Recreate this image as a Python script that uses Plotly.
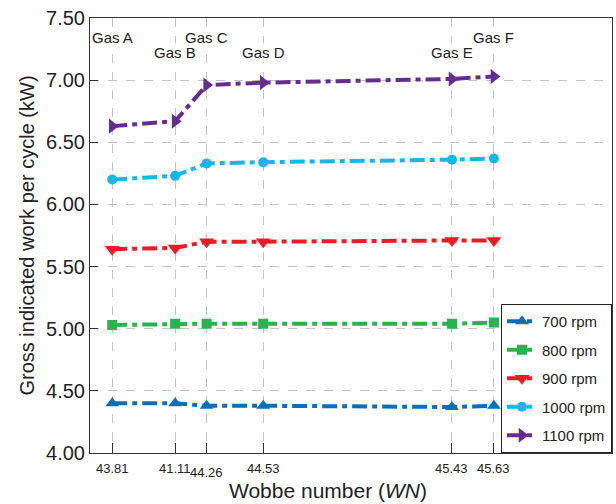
import plotly.graph_objects as go

# ---- data ----
gases = ["Gas A", "Gas B", "Gas C", "Gas D", "Gas E", "Gas F"]
wobbe_pos = [43.81, 44.11, 44.26, 44.53, 45.43, 45.63]      # plotting position (Wobbe number)
wobbe_labels = ["43.81", "41.11", "44.26", "44.53", "45.43", "45.63"]  # printed tick text
gas_label_upper = [True, False, True, False, False, True]

series_names = ["700 rpm", "800 rpm", "900 rpm", "1000 rpm", "1100 rpm"]
w700 = [4.40, 4.40, 4.38, 4.38, 4.37, 4.38]
w800 = [5.03, 5.04, 5.04, 5.04, 5.04, 5.05]
w900 = [5.64, 5.65, 5.70, 5.70, 5.71, 5.71]
w1000 = [6.20, 6.23, 6.33, 6.34, 6.36, 6.37]
w1100 = [6.63, 6.67, 6.96, 6.98, 7.01, 7.03]
series_values = [w700, w800, w900, w1000, w1100]

y_ticks = [4.0, 4.5, 5.0, 5.5, 6.0, 6.5, 7.0, 7.5]

# ---- styles ----
colors = ["#0b6fb8", "#2bb24c", "#ec1c24", "#14b6ec", "#662d91"]
symbols = ["triangle-up", "square", "triangle-down", "circle", "triangle-right"]
msizes = [12, 10, 13, 10, 13]
FONT = "Liberation Sans, Arial, Helvetica, sans-serif"

fig = go.Figure()
for name, vals, c, s, ms in zip(series_names, series_values, colors, symbols, msizes):
    fig.add_trace(go.Scatter(
        x=wobbe_pos, y=vals, name=name, mode="lines+markers",
        line=dict(color=c, width=4, dash="15px,5px,5px,5px"),
        marker=dict(symbol=s, size=ms, color=c, line=dict(width=0)),
        legendgroup=name,
    ))

annotations = []
for pos, lab in zip(wobbe_pos, wobbe_labels):
    annotations.append(dict(
        x=pos, y=0, xref="x", yref="paper", text=lab, showarrow=False,
        yanchor="top", yshift=-6 if lab != "44.26" else -10,
        font=dict(size=13, color="#222", family=FONT),
    ))
for pos, g, up in zip(wobbe_pos, gases, gas_label_upper):
    annotations.append(dict(
        x=pos, y=0.956 if up else 0.921, xref="x", yref="paper", text=g,
        showarrow=False, yanchor="middle", bgcolor="white", borderpad=0,
        font=dict(size=15, color="#222", family=FONT),
    ))
annotations.append(dict(
    x=0.455, y=0, xref="paper", yref="paper", yshift=-37, yanchor="middle",
    text="Wobbe number (<i>WN</i>)", showarrow=False,
    font=dict(size=21, color="#222", family=FONT),
))

fig.update_layout(
    width=616, height=504,
    margin=dict(l=90, r=4, t=18, b=51),
    plot_bgcolor="white", paper_bgcolor="white",
    font=dict(family=FONT, color="#222"),
    showlegend=True,
    legend=dict(
        x=1, y=0, xanchor="right", yanchor="bottom",
        bordercolor="#222", borderwidth=1, bgcolor="white",
        font=dict(size=15, color="#222", family=FONT),
        tracegroupgap=6, itemwidth=30,
    ),
    annotations=annotations,
)
fig.update_xaxes(
    range=[43.704, 46.193], tickvals=wobbe_pos, ticktext=[""] * len(wobbe_pos),
    ticks="inside", ticklen=10, tickcolor="#333",
    showline=True, linecolor="#333", linewidth=1, mirror=True,
    showgrid=True, gridcolor="#c4c4c4", griddash="dash", gridwidth=1,
    zeroline=False,
)
fig.update_yaxes(
    range=[4.0, 7.5], tickvals=y_ticks, tickformat=".2f",
    ticks="inside", ticklen=8, tickcolor="#333",
    tickfont=dict(size=20, color="#222", family=FONT),
    showline=True, linecolor="#333", linewidth=1, mirror=True,
    showgrid=True, gridcolor="#c4c4c4", griddash="dash", gridwidth=1,
    zeroline=False,
    title=dict(text="Gross indicated work per cycle (kW)",
               font=dict(size=20, color="#222", family=FONT), standoff=6),
)

fig.write_html("out.html")
